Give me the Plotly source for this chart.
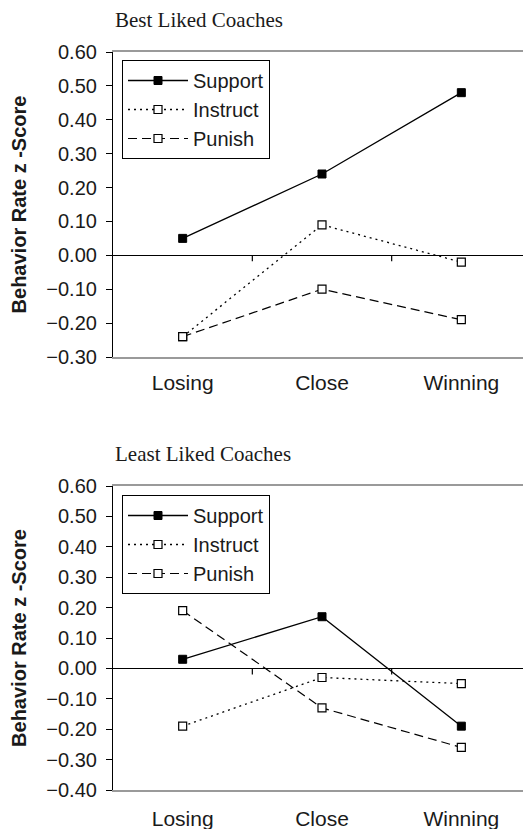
import plotly.graph_objects as go

categories = ["Losing", "Close", "Winning"]
best_support = [0.05, 0.24, 0.48]
best_instruct = [-0.24, 0.09, -0.02]
best_punish = [-0.24, -0.10, -0.19]
least_support = [0.03, 0.17, -0.19]
least_instruct = [-0.19, -0.03, -0.05]
least_punish = [0.19, -0.13, -0.26]
series_names = ["Support", "Instruct", "Punish"]
panel_titles = ["Best Liked Coaches", "Least Liked Coaches"]
y_title = "Behavior Rate z -Score"
best_ticks = [0.6, 0.5, 0.4, 0.3, 0.2, 0.1, 0.0, -0.1, -0.2, -0.3]
best_tick_text = ["0.60", "0.50", "0.40", "0.30", "0.20", "0.10", "0.00",
                  "\u22120.10", "\u22120.20", "\u22120.30"]
least_ticks = [0.6, 0.5, 0.4, 0.3, 0.2, 0.1, 0.0, -0.1, -0.2, -0.3, -0.4]
least_tick_text = ["0.60", "0.50", "0.40", "0.30", "0.20", "0.10", "0.00",
                   "\u22120.10", "\u22120.20", "\u22120.30", "\u22120.40"]

OFF = 8  # page body margin
W, H = 531 - OFF, 829 - OFF
TXT = "#1a1a1a"
SANS = "Liberation Sans, Arial, sans-serif"

styles = {
    "Support": dict(line=dict(color="black", width=1.3, dash="solid"),
                    marker=dict(symbol="square", size=8, color="black",
                                line=dict(color="black", width=1))),
    "Instruct": dict(line=dict(color="black", width=1.3, dash="2px,4px"),
                     marker=dict(symbol="square", size=8, color="white",
                                 line=dict(color="black", width=1.2))),
    "Punish": dict(line=dict(color="black", width=1.2, dash="9px,5px"),
                   marker=dict(symbol="square", size=8, color="white",
                               line=dict(color="black", width=1.2))),
}

fig = go.Figure()
panels = [
    ("x", "y", "legend", [best_support, best_instruct, best_punish]),
    ("x2", "y2", "legend2", [least_support, least_instruct, least_punish]),
]
for xa, ya, lg, vals in panels:
    for name, v in zip(series_names, vals):
        fig.add_trace(go.Scatter(x=categories, y=v, name=name, mode="lines+markers",
                                 xaxis=xa, yaxis=ya, legend=lg, cliponaxis=False,
                                 **styles[name]))

def py2p(py):
    return 1 - (py - OFF) / H

def px2p(px):
    return (px - OFF) / W

x_dom = [px2p(113), min(1.0, px2p(531))]
top_dom = [py2p(357), py2p(52)]
bot_dom = [py2p(790), py2p(486)]

def xaxis(anchor, standoff):
    return dict(domain=x_dom, anchor=anchor, range=[-0.5, 2.5], type="category",
                automargin=False,
                showgrid=False, showline=True, linecolor="#9a9a9a", linewidth=1.5,
                mirror=True, ticks="", ticklabelstandoff=standoff,
                tickfont=dict(family=SANS, size=21, color=TXT), zeroline=False)

def yaxis(anchor, dom, rng, ticks, ticktext):
    return dict(domain=dom, anchor=anchor, range=rng, tickvals=ticks, ticktext=ticktext,
                automargin=False,
                showgrid=False, showline=True, linecolor="black", linewidth=1.2,
                ticks="outside", ticklen=6, tickcolor="black", ticklabelstandoff=5,
                tickfont=dict(family=SANS, size=20, color=TXT),
                zeroline=True, zerolinecolor="black", zerolinewidth=1.2,
                title=dict(text="<b>" + y_title + "</b>", standoff=15,
                           font=dict(family=SANS, size=20, color=TXT)))

legend_common = dict(xanchor="left", yanchor="top", bgcolor="white",
                     bordercolor="black", borderwidth=1, itemwidth=60,
                     font=dict(family=SANS, size=20, color=TXT),
                     tracegroupgap=0, itemclick=False)

fig.update_layout(
    width=W, height=H, margin=dict(l=0, r=0, t=0, b=0),
    paper_bgcolor="white", plot_bgcolor="white",
    xaxis=xaxis("y", 6), yaxis=yaxis("x", top_dom, [-0.3, 0.6], best_ticks, best_tick_text),
    xaxis2=xaxis("y2", 9), yaxis2=yaxis("x2", bot_dom, [-0.4, 0.6], least_ticks, least_tick_text),
    legend=dict(x=px2p(122), y=py2p(60), **legend_common),
    legend2=dict(x=px2p(122), y=py2p(495), **legend_common),
    showlegend=True,
)

# category boundary ticks on the zero line
for xr, yr in [("x", "y"), ("x2", "y2")]:
    for b in [0.5, 1.5]:
        fig.add_shape(type="line", xref=xr, yref=yr, x0=b, x1=b,
                      ysizemode="pixel", yanchor=0, y0=0, y1=-6,
                      line=dict(color="black", width=1.2))

# panel titles
for title, ya_top in zip(panel_titles, [top_dom[1], bot_dom[1]]):
    fig.add_annotation(text=title, xref="paper", yref="paper", x=x_dom[0], y=ya_top,
                       xanchor="left", yanchor="bottom", yshift=18, showarrow=False,
                       font=dict(family="Liberation Serif, Times New Roman, serif",
                                 size=21, color=TXT))

fig.write_html("out.html")
